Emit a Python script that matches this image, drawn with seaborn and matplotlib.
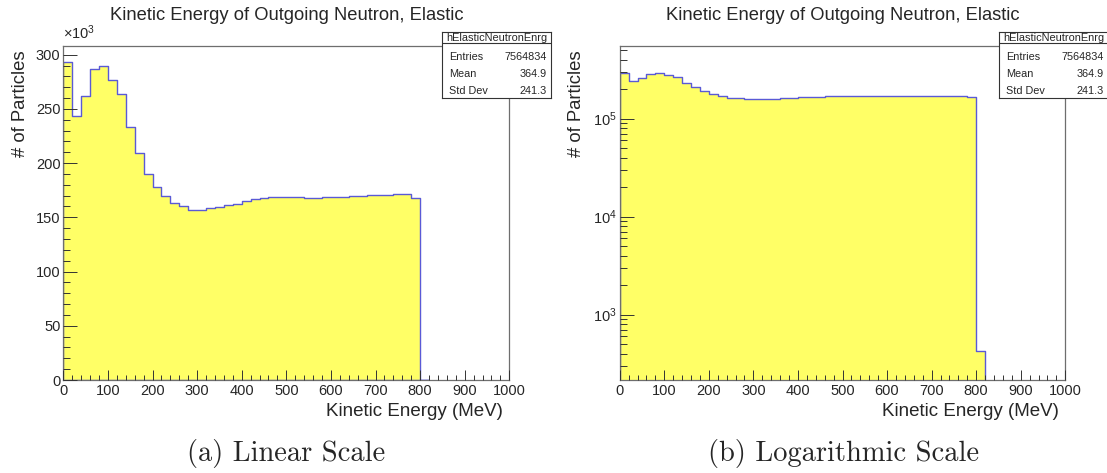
import numpy as np
import pandas as pd
import matplotlib
matplotlib.use("Agg")
import matplotlib.pyplot as plt
from matplotlib.ticker import MultipleLocator, FuncFormatter, LogLocator, LogFormatterSciNotation, NullFormatter
from matplotlib.lines import Line2D
import seaborn as sns

# Histogram contents: 20 MeV bins from 0 to 820 MeV (empty above)
bin_edges = list(range(0, 821, 20))
counts = [293500, 243800, 261600, 286800, 289500, 276600, 263700, 233300, 209400, 190000,
          178000, 170000, 163300, 160900, 157100, 157000, 158400, 159600, 161100, 162300,
          164700, 166500, 167400, 168300, 168500, 168600, 168300, 168000, 168200, 168400,
          168800, 169200, 169800, 170000, 170200, 170500, 171000, 171100, 171300, 167600,
          425]

hist_name = "hElasticNeutronEnrg"
stat_names = ["Entries", "Mean", "Std Dev"]
stat_values = ["7564834", "364.9", "241.3"]

title = "Kinetic Energy of Outgoing Neutron, Elastic"
xlabel = "Kinetic Energy (MeV)"
ylabel = "# of Particles"
captions = ["(a) Linear Scale", "(b) Logarithmic Scale"]

FILL = "#ffff66"
LINE = "#5a5ad6"
FRAME = "#6e6e6e"
SANS = "Liberation Sans"

sns.set_style("white")
plt.rcParams["font.family"] = [SANS, "DejaVu Sans"]
plt.rcParams["mathtext.default"] = "regular"

W, H = 1107, 473
fig = plt.figure(figsize=(W / 100, H / 100), dpi=100)

centers = [(a + b) / 2 for a, b in zip(bin_edges[:-1], bin_edges[1:])]
df = pd.DataFrame({"energy": centers, "count": counts})


def px_axes(x0, x1, y_top, y_bot):
    return fig.add_axes([x0 / W, 1 - y_bot / H, (x1 - x0) / W, (y_bot - y_top) / H])


def style_axes(ax):
    ax.set_axisbelow(False)
    for s in ax.spines.values():
        s.set_color(FRAME)
        s.set_linewidth(0.9)
    ax.set_xlim(0, 1000)
    ax.xaxis.set_major_locator(MultipleLocator(100))
    ax.xaxis.set_minor_locator(MultipleLocator(20))
    ax.tick_params(axis="x", which="major", direction="in", length=7.2, width=0.7,
                   color="#333333", pad=3, labelsize=10.5)
    ax.tick_params(axis="x", which="minor", direction="in", length=3.6, width=0.7,
                   color="#333333")
    ax.tick_params(axis="y", which="major", direction="in", length=10, width=0.7,
                   color="#333333", pad=2, labelsize=10.5)
    ax.tick_params(axis="y", which="minor", direction="in", length=5, width=0.7,
                   color="#333333")
    ax.tick_params(which="both", left=True, bottom=True, top=False, right=False)
    ax.set_xlabel(xlabel, fontsize=13.5, loc="right")
    ax.xaxis.set_label_coords(0.986, -0.07)
    ax.set_ylabel(ylabel, fontsize=13.3, loc="top")
    ax.yaxis.set_label_coords(-0.077, 0.988)
    ax.text(0.5, 1 + 31 / 334, title, transform=ax.transAxes, ha="center",
            va="center", fontsize=13.2)


def stats_box(x0):
    bx = px_axes(x0, x0 + 109, 32, 98)
    bx.set_zorder(5)
    bx.set_facecolor("white")
    bx.set_xlim(0, 109)
    bx.set_ylim(66, 0)
    bx.set_xticks([])
    bx.set_yticks([])
    for s in bx.spines.values():
        s.set_color("#333333")
        s.set_linewidth(0.8)
    bx.add_line(Line2D([0, 109], [11, 11], color="#333333", lw=0.8))
    bx.text(54.5, 6, hist_name, ha="center", va="center", fontsize=7.9)
    for i, (n, v) in enumerate(zip(stat_names, stat_values)):
        y = 25 + i * 17
        bx.text(7, y, n, ha="left", va="center", fontsize=7.8)
        bx.text(105, y, v, ha="right", va="center", fontsize=7.8)


# Linear panel
ax1 = px_axes(63.3, 509.3, 46, 380)
sns.histplot(data=df, x="energy", weights="count", bins=bin_edges, element="step",
             fill=True, facecolor=FILL, edgecolor=LINE, linewidth=1.0, alpha=1, ax=ax1)
ax1.set_ylim(0, 308000)
ax1.yaxis.set_major_locator(MultipleLocator(50000))
ax1.yaxis.set_minor_locator(MultipleLocator(10000))
ax1.yaxis.set_major_formatter(FuncFormatter(lambda v, p: f"{v / 1000:.0f}"))
style_axes(ax1)
ax1.text(0.0, 1.012, r"$\times10^{3}$", transform=ax1.transAxes, ha="left",
         va="bottom", fontsize=10.5)
stats_box(442)

# Logarithmic panel
ax2 = px_axes(619.7, 1065.3, 46, 380)
sns.histplot(data=df, x="energy", weights="count", bins=bin_edges, element="step",
             fill=True, facecolor=FILL, edgecolor=LINE, linewidth=1.0, alpha=1, ax=ax2)
ax2.set_yscale("log")
ax2.set_ylim(215, 550000)
ax2.yaxis.set_major_locator(LogLocator(base=10))
ax2.yaxis.set_minor_locator(LogLocator(base=10, subs=np.arange(2, 10)))
ax2.yaxis.set_major_formatter(LogFormatterSciNotation())
ax2.yaxis.set_minor_formatter(NullFormatter())
style_axes(ax2)
stats_box(999)

# Sub-figure captions
for cx, cap in zip([286, 844], captions):
    fig.text(cx / W, 1 - 453 / H, cap, ha="center", va="center", fontsize=20.5,
             family="cmr10")

fig.savefig("out.png", dpi=100)
